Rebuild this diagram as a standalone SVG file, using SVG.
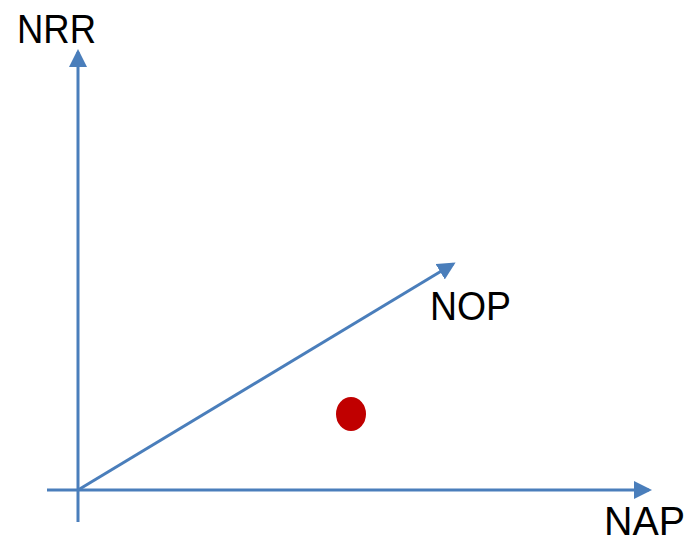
<svg xmlns="http://www.w3.org/2000/svg" width="688" height="539" viewBox="0 0 688 539">
<style>
.ax{stroke:#4A7EBB;stroke-width:3;fill:none}
.lbl{font-family:"Liberation Sans",Arial,sans-serif;font-size:40px;fill:#000}
</style>
<defs>
<marker id="ah" markerWidth="6" markerHeight="6" refX="5" refY="3" orient="auto" markerUnits="strokeWidth">
<path d="M0,0 L6,3 L0,6 z" fill="#4A7EBB"/>
</marker>
</defs>
<rect width="688" height="539" fill="#fff"/>
<g id="connectors">
<line class="ax" x1="78" y1="522" x2="78" y2="52" marker-end="url(#ah)"/>
<line class="ax" x1="47" y1="490" x2="649" y2="490" marker-end="url(#ah)"/>
<line class="ax" x1="78" y1="490" x2="453" y2="264" marker-end="url(#ah)"/>
</g>
<g id="nrr"><text class="lbl" x="17" y="43" textLength="79" lengthAdjust="spacingAndGlyphs">NRR</text></g>
<g id="nop"><text class="lbl" x="430" y="320" textLength="81" lengthAdjust="spacingAndGlyphs">NOP</text></g>
<g id="nap"><text class="lbl" x="604" y="535" textLength="81" lengthAdjust="spacingAndGlyphs">NAP</text></g>
<g id="point"><ellipse cx="351" cy="414" rx="15" ry="17" fill="#C00000"/></g>
</svg>
